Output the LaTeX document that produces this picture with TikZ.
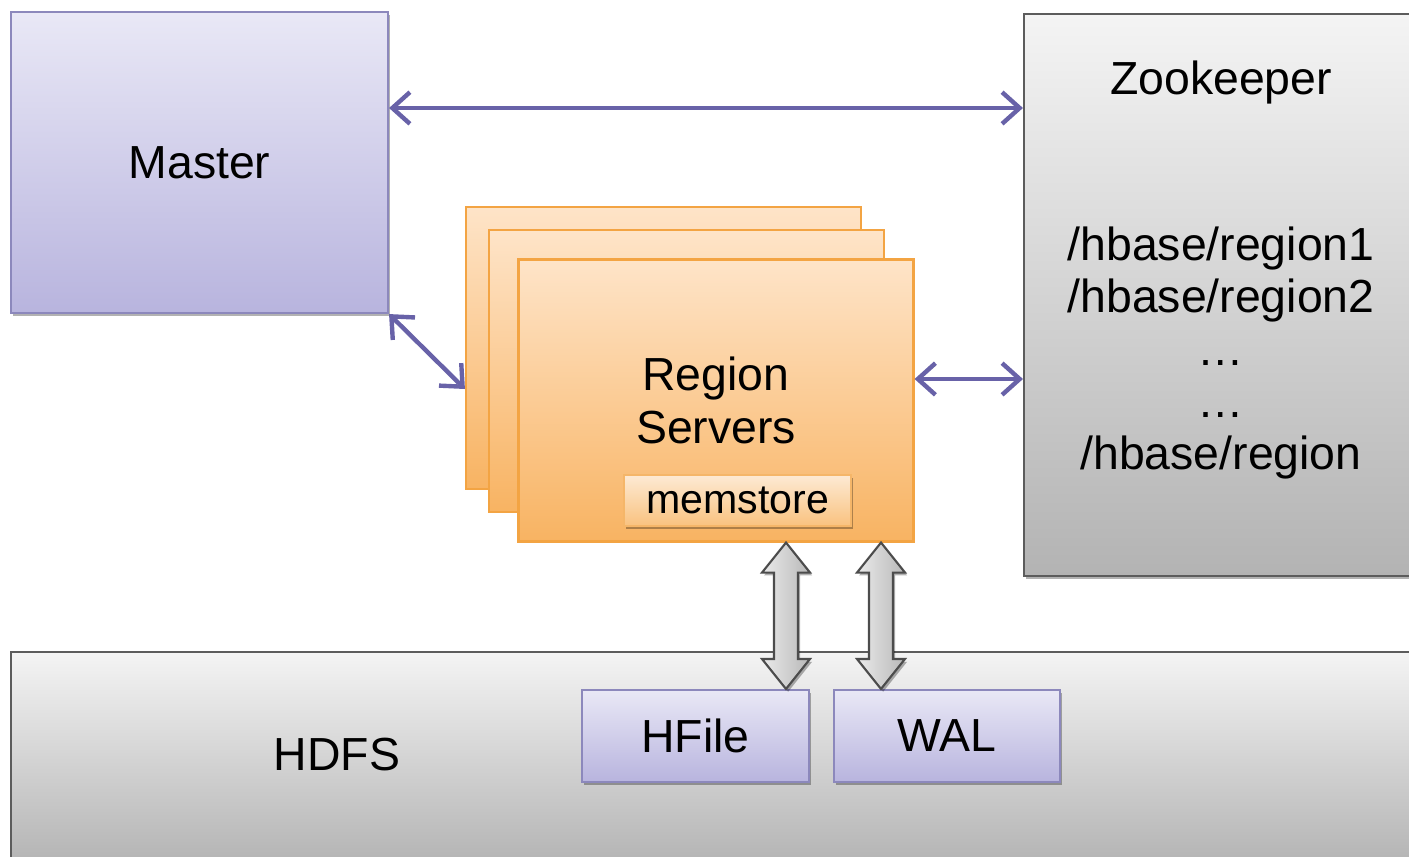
\documentclass[tikz,border=0pt]{standalone}
\usepackage{fontspec}
\setmainfont{Liberation Sans}
\usetikzlibrary{arrows.meta,shadows,calc}

\definecolor{lilactop}{HTML}{E9E8F6}
\definecolor{lilacbot}{HTML}{B8B4DE}
\definecolor{lilacline}{HTML}{8C88BC}
\definecolor{greytop}{HTML}{F4F4F4}
\definecolor{greybot}{HTML}{B3B3B3}
\definecolor{greyline}{HTML}{5C5C5C}
\definecolor{orangetop}{HTML}{FEE4C8}
\definecolor{orangebot}{HTML}{F8B362}
\definecolor{orangeline}{HTML}{F3A443}
\definecolor{memtop}{HTML}{FDEAD4}
\definecolor{membot}{HTML}{F9C27F}
\definecolor{linkblue}{HTML}{6862A8}

\tikzset{
  softshadow/.style={drop shadow={shadow xshift=0.6pt,shadow yshift=-0.8pt,opacity=0.3,fill=black}},
  lilacbox/.style={draw=lilacline,line width=0.6pt,top color=lilactop,bottom color=lilacbot,softshadow},
  greybox/.style={draw=greyline,line width=0.6pt,top color=greytop,bottom color=greybot,softshadow},
  serverbox/.style={draw=orangeline,line width=0.6pt,top color=orangetop,bottom color=orangebot,
    minimum width=3.95cm,minimum height=2.82cm},
  membox/.style={draw=orangeline!80,line width=0.6pt,top color=memtop,bottom color=membot,softshadow},
  link/.style={draw=linkblue,line width=1.25pt,{Straight Barb[length=5pt,width=9pt]}-{Straight Barb[length=5pt,width=9pt]}},
  fatarrow/.style={draw=black!70,line width=0.6pt,left color=black!8,right color=black!28,softshadow}
}

% vertical block arrow with a head at both ends
\newcommand{\fatarrow}[2]{%
  \path[fatarrow] let \p1=(#1), \p2=(#2) in
    (\x1,\y1) -- (\x1+0.24cm,\y1-0.3cm) -- (\x1+0.12cm,\y1-0.3cm)
    -- (\x1+0.12cm,\y2+0.3cm) -- (\x1+0.24cm,\y2+0.3cm) -- (\x2,\y2)
    -- (\x1-0.24cm,\y2+0.3cm) -- (\x1-0.12cm,\y2+0.3cm)
    -- (\x1-0.12cm,\y1-0.3cm) -- (\x1-0.24cm,\y1-0.3cm) -- cycle;}

\begin{document}
\begin{tikzpicture}[font=\fontsize{13.2}{14.9}\selectfont]
\useasboundingbox (0,0) rectangle (14.09,8.56);
\clip (0,0) rectangle (14.09,8.56);

\node[greybox,minimum width=14.09cm,minimum height=2.14cm] (hdfs) at (7.155,0.97) {};
\node (hdfslabel) at (3.37,1.01) {HDFS};
\node[lilacbox,minimum width=2.27cm,minimum height=0.92cm] (hf) at (6.955,1.20) {HFile};
\node[lilacbox,minimum width=2.26cm,minimum height=0.92cm] (wal) at (9.47,1.20) {WAL};

\node[lilacbox,minimum width=3.77cm,minimum height=3.01cm] (master) at (1.995,6.935) {Master};

\node[greybox,minimum width=3.96cm,minimum height=5.62cm] (zk) at (12.22,5.61) {};
\node (zktitle) at (12.21,7.73) {Zookeeper};
\node[align=center] (znodes) at (12.21,5.03) {/hbase/region1\\/hbase/region2\\…\\…\\/hbase/region};

\node[serverbox] (rs3) at (6.635,5.08) {};
\node[serverbox] (rs2) at (6.865,4.85) {};
\node[serverbox,align=center] (rs1) at (7.16,4.555) {Region\\Servers};
\node[membox,minimum width=2.27cm,minimum height=0.51cm,font=\fontsize{11.7}{14}\selectfont] (mem) at (7.375,3.555) {memstore};

\coordinate (mz) at (0,7.48);
\coordinate (rz) at ([yshift=0.215cm]rs1.east);
\draw[link] (master.east |- mz) -- (zk.west |- mz);
\draw[link] (master.south east) -- ([yshift=-0.41cm]rs3.west);
\draw[link] (rz) -- (zk.west |- rz);

\coordinate (ha) at (7.86,0);
\coordinate (wa) at (8.81,0);
\fatarrow{ha |- rs1.south}{ha |- hf.north}
\fatarrow{wa |- rs1.south}{wa |- wal.north}
\end{tikzpicture}
\end{document}
